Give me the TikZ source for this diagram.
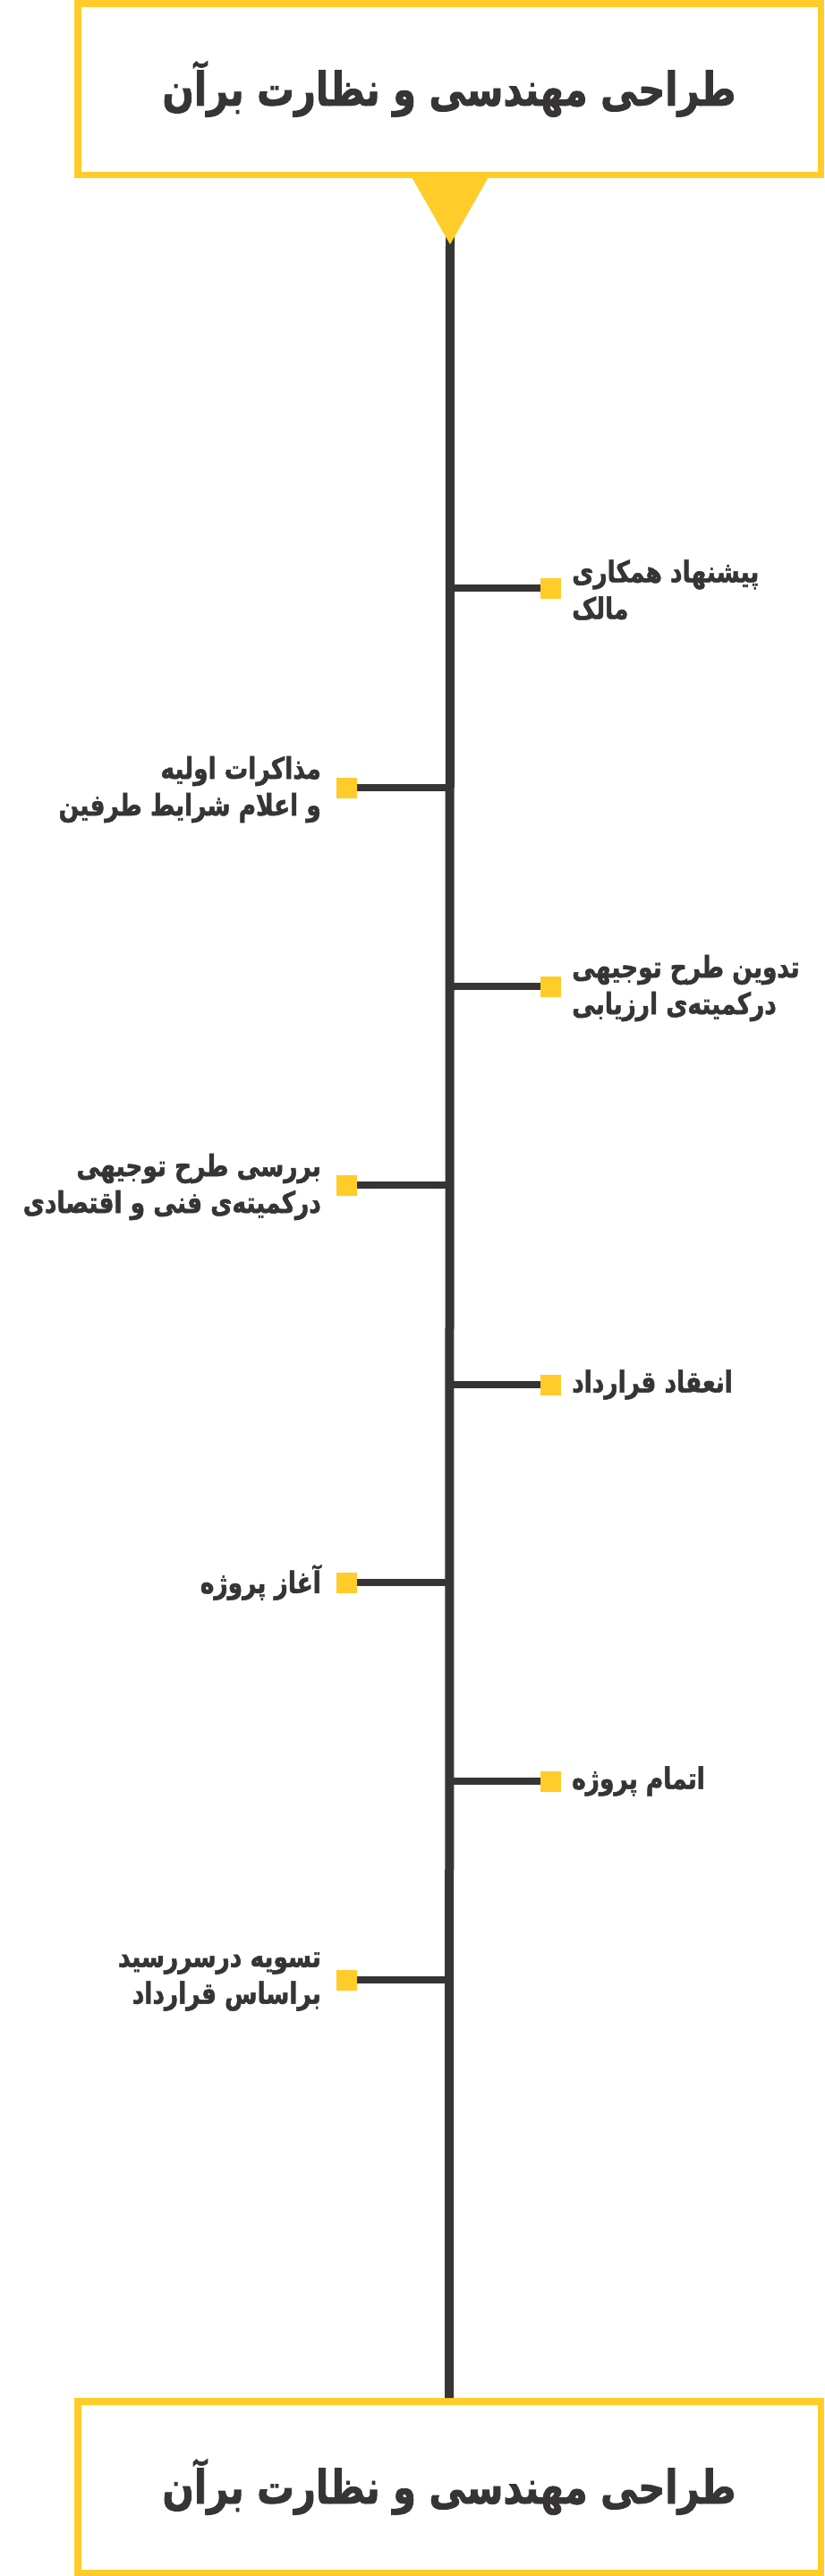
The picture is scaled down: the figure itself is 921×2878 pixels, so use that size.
\documentclass[tikz,border=0pt]{standalone}
\usepackage{fontspec}
\TeXXeTstate=1
\newfontfamily\arabicfont[Script=Arabic,FakeStretch=0.8,BoldFeatures={FakeBold=1.5}]{DejaVu Sans}
\definecolor{ylw}{HTML}{FFCC29}
\definecolor{drk}{HTML}{363435}
\begin{document}
\begin{tikzpicture}[x=1pt,y=-1pt,
  titlebox/.style={draw=ylw,line width=7.5pt,fill=white,minimum width=830.5pt,minimum height=191.5pt,inner sep=0pt,
    font=\arabicfont\bfseries\fontsize{52}{60}\selectfont,text=drk},
  sq/.style={fill=ylw,minimum size=23pt,inner sep=0pt},
  branch/.style={draw=drk,line width=8pt},
  spine/.style={draw=drk,line width=10pt},
  lblR/.style={anchor=west,align=left,font=\arabicfont\bfseries\fontsize{33}{41}\selectfont,text=drk,inner sep=0pt},
  lblL/.style={anchor=east,align=right,font=\arabicfont\bfseries\fontsize{33}{41}\selectfont,text=drk,inner sep=0pt}]
\useasboundingbox (0,0) rectangle (921,2878);
\fill[white] (0,0) rectangle (921,2878);
% spine
\coordinate (apex) at (503,273);
\node[titlebox] (bot) at (502,2778.5) {\beginR طراحی مهندسی و نظارت برآن\endR};
\draw[spine] (503,260) -- (bot.north);
% top box with pointer
\fill[ylw] (459,196) -- (547,196) -- (apex) -- cycle;
\node[titlebox] (top) at (502,99.5) {\beginR طراحی مهندسی و نظارت برآن\endR};
% branches
\foreach \i/\yy in {1/657,2/880,3/1102,4/1324,5/1547,6/1768,7/1990,8/2212}{
  \coordinate (s\i) at (503,\yy);
}
\node[sq] (q1) at (615.5,657) {};
\node[sq] (q2) at (387.5,880) {};
\node[sq] (q3) at (615.5,1102) {};
\node[sq] (q4) at (387.5,1324) {};
\node[sq] (q5) at (615.5,1547) {};
\node[sq] (q6) at (387.5,1768) {};
\node[sq] (q7) at (615.5,1990) {};
\node[sq] (q8) at (387.5,2212) {};
\draw[branch] (s1) -- (q1.west);
\draw[branch] (s2) -- (q2.east);
\draw[branch] (s3) -- (q3.west);
\draw[branch] (s4) -- (q4.east);
\draw[branch] (s5) -- (q5.west);
\draw[branch] (s6) -- (q6.east);
\draw[branch] (s7) -- (q7.west);
\draw[branch] (s8) -- (q8.east);
\node[lblR] (t1) at (639,659) {\beginR پیشنهاد همکاری\endR\\\beginR مالک\endR};
\node[lblL] (t2) at (359,882) {\beginR مذاکرات اولیه\endR\\\beginR و اعلام شرایط طرفین\endR};
\node[lblR] (t3) at (639,1104) {\beginR تدوین طرح توجیهی\endR\\\beginR درکمیته‌ی ارزیابی\endR};
\node[lblL] (t4) at (359,1326) {\beginR بررسی طرح توجیهی\endR\\\beginR درکمیته‌ی فنی و اقتصادی\endR};
\node[lblR] (t5) at (639,1547) {\beginR انعقاد قرارداد\endR};
\node[lblL] (t6) at (359,1768) {\beginR آغاز پروژه\endR};
\node[lblR] (t7) at (639,1990) {\beginR اتمام پروژه\endR};
\node[lblL] (t8) at (359,2214) {\beginR تسویه درسررسید\endR\\\beginR براساس قرارداد\endR};
\end{tikzpicture}
\end{document}
